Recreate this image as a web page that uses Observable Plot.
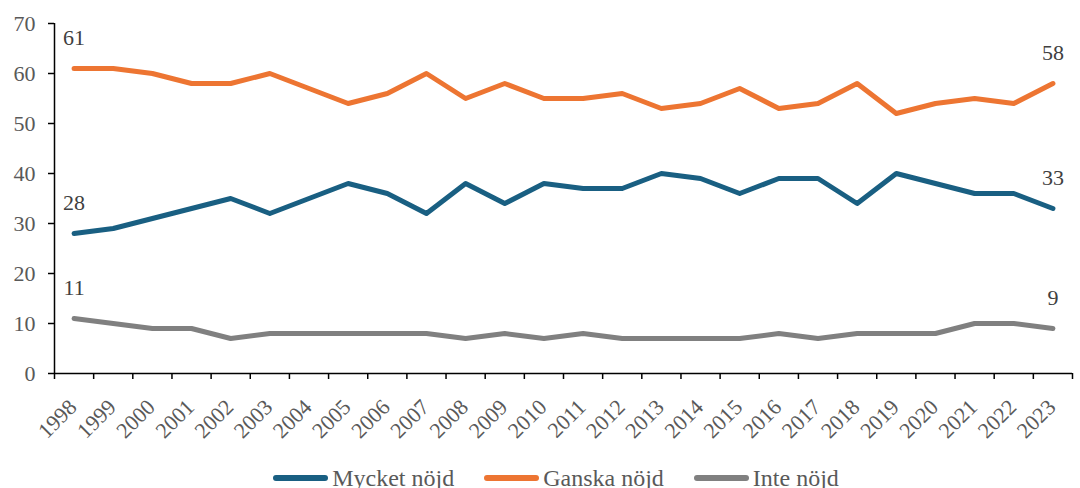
<!DOCTYPE html>
<html>
<head>
<meta charset="utf-8">
<script src="https://cdn.jsdelivr.net/npm/d3@7"></script>
<script src="https://cdn.jsdelivr.net/npm/@observablehq/plot@0.6"></script>
<style>
  html, body { margin: 0; padding: 0; background: #fff; font-family: 'Liberation Serif', serif; }
  #chart svg { display: block; }
  .legend { display: flex; justify-content: center; align-items: center; height: 24px; line-height: 24px;
    font-family: 'Liberation Serif', serif; font-size: 24px; color: #595959; padding-left: 32px; }
  .item { display: flex; align-items: center; margin: 0 15px; }
  .sw { display: inline-block; width: 55px; height: 6px; border-radius: 3px; margin-right: 4px; }
</style>
</head>
<body>
<div id="chart"></div>
<div class="legend" id="legend"></div>
<script>
const years = d3.range(1998, 2024);
const seriesNames = ["Mycket nöjd", "Ganska nöjd", "Inte nöjd"];
const colors = ["#195f82", "#ed7532", "#808080"];
const mycket = [28, 29, 31, 33, 35, 32, 35, 38, 36, 32, 38, 34, 38, 37, 37, 40, 39, 36, 39, 39, 34, 40, 38, 36, 36, 33];
const ganska = [61, 61, 60, 58, 58, 60, 57, 54, 56, 60, 55, 58, 55, 55, 56, 53, 54, 57, 53, 54, 58, 52, 54, 55, 54, 58];
const inte   = [11, 10, 9, 9, 7, 8, 8, 8, 8, 8, 7, 8, 7, 8, 7, 7, 7, 7, 8, 7, 8, 8, 8, 10, 10, 9];
const yTicks = [0, 10, 20, 30, 40, 50, 60, 70];

const allSeries = [mycket, ganska, inte];
const data = [];
allSeries.forEach((vals, i) => vals.forEach((v, j) => data.push({year: years[j], value: v, series: seriesNames[i]})));
const ends = data.filter(d => d.year === years[0] || d.year === years[years.length - 1]);
const xMin = years[0] - 0.5, xMax = years[years.length - 1] + 0.5;
const boundaries = d3.range(xMin, xMax + 0.01, 1);

const chart = Plot.plot({
  width: 1080,
  height: 466,
  marginLeft: 54,
  marginRight: 8,
  marginTop: 23,
  marginBottom: 93,
  style: {fontFamily: "'Liberation Serif', serif", fontSize: "22px", color: "#595959", background: "#fff"},
  x: {domain: [xMin, xMax]},
  y: {domain: [0, 70]},
  color: {domain: seriesNames, range: colors},
  marks: [
    Plot.axisY({ticks: yTicks, tickSize: 6, tickPadding: 13, label: null, stroke: "#000", strokeWidth: 1.5, fill: "#595959", fontSize: 22}),
    Plot.axisX({ticks: boundaries, tickSize: 6, tickFormat: () => "", label: null, stroke: "#000", strokeWidth: 1.5}),
    Plot.text(years, {x: d => d, frameAnchor: "bottom", text: d => String(d), rotate: -45, textAnchor: "end", lineAnchor: "middle", dx: -1, dy: 30, fill: "#595959", fontSize: 22}),
    Plot.ruleX([xMin], {stroke: "#000", strokeWidth: 1.5}),
    Plot.ruleY([0], {stroke: "#000", strokeWidth: 1.5}),
    Plot.line(data, {x: "year", y: "value", z: "series", stroke: "series", strokeWidth: 5, strokeLinecap: "round", strokeLinejoin: "round"}),
    Plot.text(ends, {x: "year", y: "value", text: d => String(d.value), dy: -31, fill: "#404040", fontSize: 22})
  ]
});
document.getElementById("chart").appendChild(chart);

const legend = document.getElementById("legend");
seriesNames.forEach((n, i) => {
  const it = document.createElement("div");
  it.className = "item";
  it.innerHTML = `<span class="sw" style="background:${colors[i]}"></span><span>${n}</span>`;
  legend.appendChild(it);
});
</script>
</body>
</html>
